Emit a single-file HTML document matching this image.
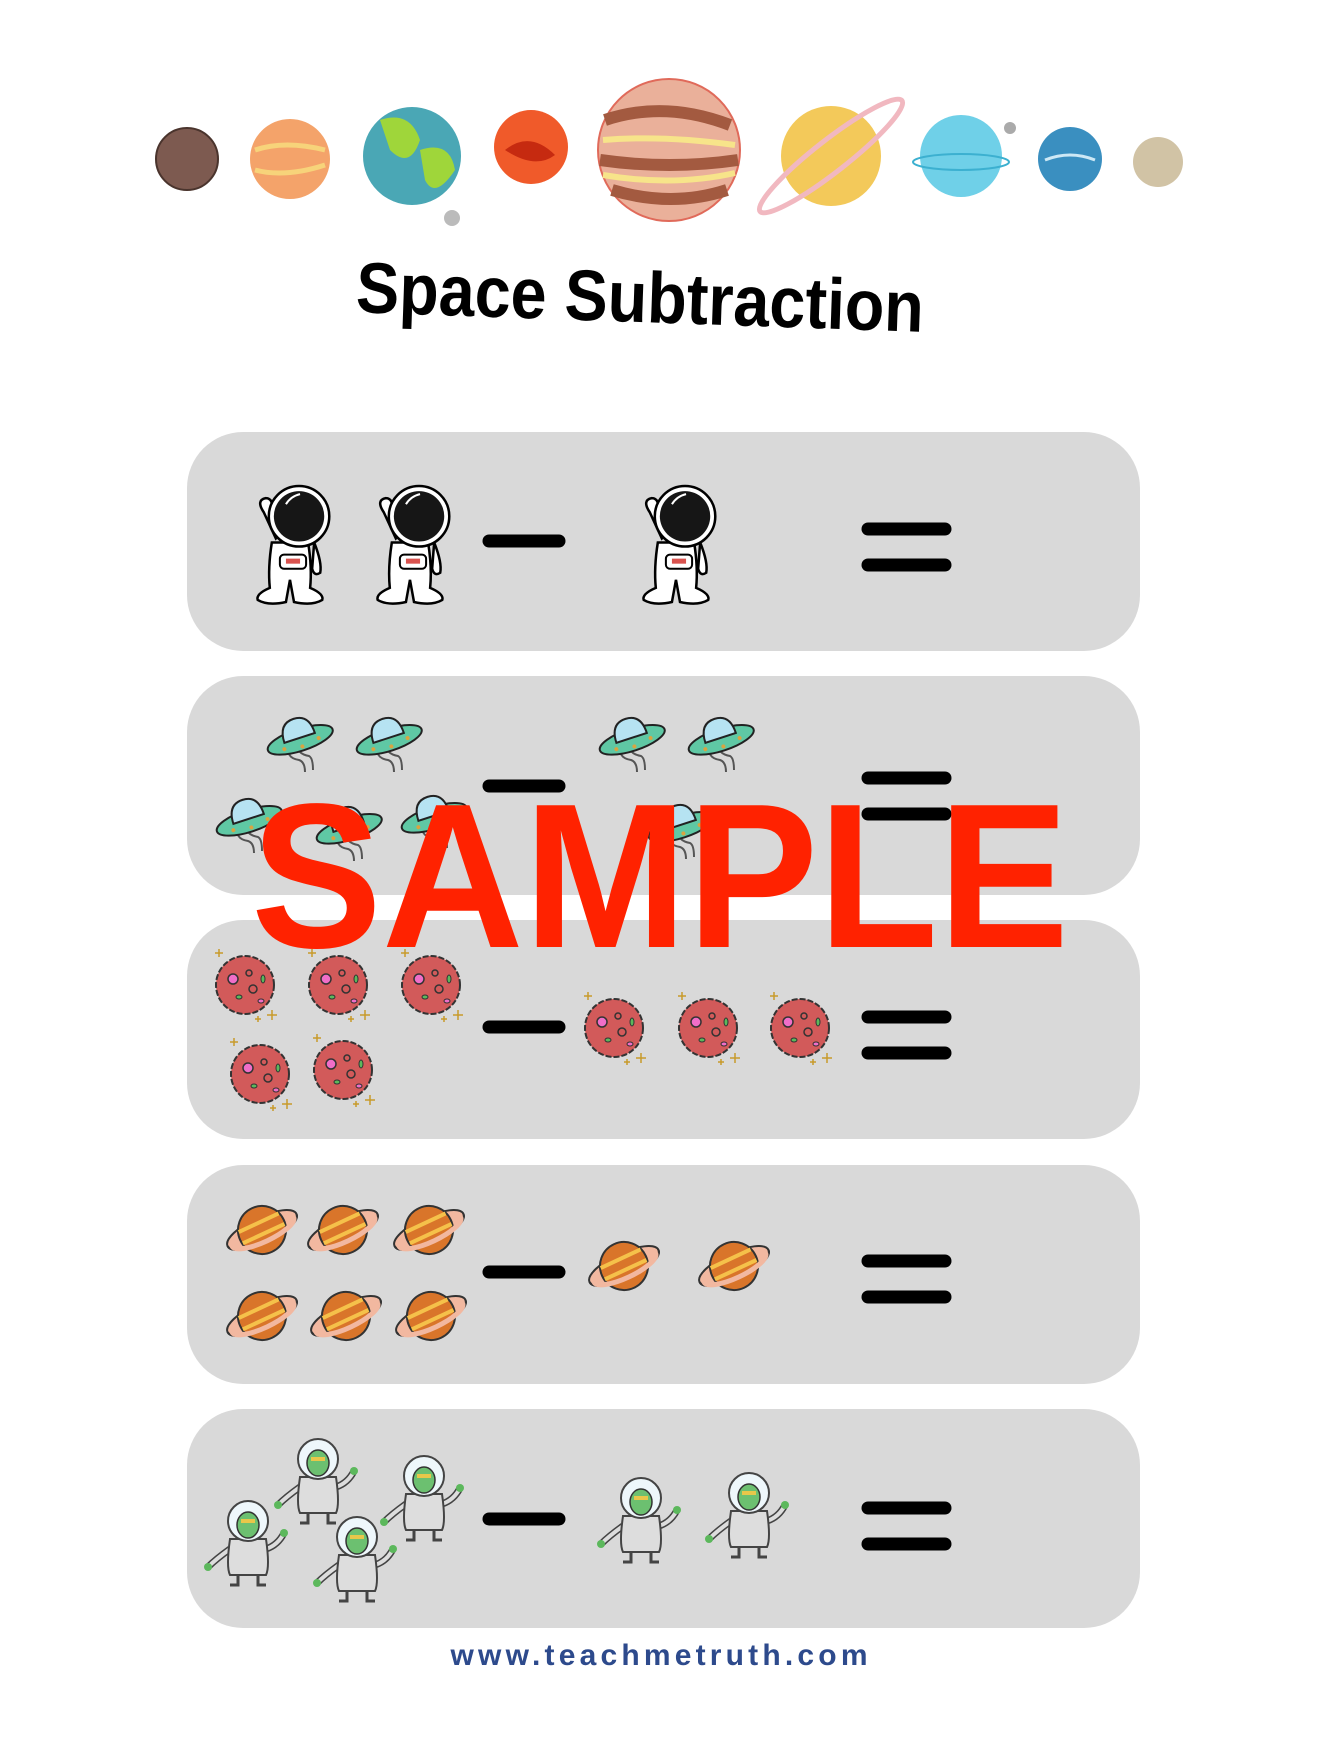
<!DOCTYPE html>
<html><head><meta charset="utf-8"><style>
html,body{margin:0;padding:0;background:#fff;}
body{width:1326px;height:1752px;position:relative;overflow:hidden;font-family:"Liberation Sans",sans-serif;}
.row{position:absolute;left:187px;width:953px;height:219px;background:#d9d9d9;border-radius:56px;}
.t{position:absolute;}
</style></head><body>
<div class="row" style="top:432px"></div>
<div class="row" style="top:676px"></div>
<div class="row" style="top:920px"></div>
<div class="row" style="top:1165px"></div>
<div class="row" style="top:1409px"></div>

<svg class="t" style="left:0;top:0" width="1326" height="1752" viewBox="0 0 1326 1752">
<defs>
<symbol id="astro" viewBox="-40 -62 80 124" overflow="visible">
 <path d="M-30 -30 q-8 -12 2 -14 q8 0 6 14 l10 20 l-6 6z" fill="#fff" stroke="#000" stroke-width="2.5"/>
 <path d="M-22 0 q-4 25 -2 45 q-14 6 -12 12 q10 6 28 2 l4 -22 l4 22 q18 4 28 -2 q2 -6 -12 -12 q2 -20 -2 -45z" fill="#fff" stroke="#000" stroke-width="2.5"/>
 <path d="M20 0 q8 20 6 30 q-6 4 -8 -4z" fill="#fff" stroke="#000" stroke-width="2.5"/>
 <rect x="-14" y="12" width="26" height="14" rx="4" fill="#fff" stroke="#000" stroke-width="2"/>
 <rect x="-8" y="16" width="14" height="5" fill="#d9534f"/>
 <circle cx="5" cy="-26" r="30" fill="#fff" stroke="#000" stroke-width="2.5"/>
 <circle cx="5" cy="-26" r="25" fill="#161616"/>
 <path d="M-8 -38 q5 -8 14 -10" stroke="#fff" stroke-width="2" fill="none"/>
</symbol>
<symbol id="ufo" viewBox="-40 -30 80 60" overflow="visible">
 <path d="M-10 8 q-4 14 10 16 q6 2 6 12 M-2 8 q0 10 12 12 q4 2 4 14" stroke="#555" stroke-width="2" fill="none"/>
 <g transform="rotate(-18)">
 <ellipse cx="0" cy="4" rx="34" ry="11" fill="#5fc8a4" stroke="#222" stroke-width="2"/>
 <path d="M-16 2 q0 -20 16 -20 q16 0 16 20z" fill="#b6e3f2" stroke="#222" stroke-width="2"/>
 <circle cx="-18" cy="8" r="2" fill="#d9a441"/><circle cx="0" cy="11" r="2" fill="#d9a441"/><circle cx="18" cy="8" r="2" fill="#d9a441"/>
 </g>
</symbol>
<symbol id="ast" viewBox="-40 -40 80 80" overflow="visible">
 <circle r="29" fill="#d25a5a" stroke="#333" stroke-width="2" stroke-dasharray="6 2"/>
 <circle cx="-12" cy="-6" r="5" fill="#f06ec8" stroke="#333" stroke-width="1.5"/>
 <circle cx="4" cy="-12" r="3" fill="none" stroke="#333" stroke-width="1.5"/>
 <circle cx="8" cy="4" r="4" fill="none" stroke="#333" stroke-width="1.5"/>
 <ellipse cx="-6" cy="12" rx="3" ry="2" fill="#5cb85c" stroke="#333"/>
 <ellipse cx="18" cy="-6" rx="2" ry="4" fill="#5cb85c" stroke="#333"/>
 <ellipse cx="16" cy="16" rx="3" ry="2" fill="#f06ec8" stroke="#333"/>
 <path d="M22 30 h10 M27 25 v10 M10 34 h6 M13 31 v6 M-30 -32 h8 M-26 -36 v8" stroke="#c89a2a" stroke-width="1.5"/>
</symbol>
<symbol id="sat" viewBox="-40 -35 80 70" overflow="visible">
 <g transform="rotate(-25)">
 <ellipse rx="38" ry="13" fill="#f2b8a0" stroke="#333" stroke-width="2"/>
 <circle r="24" fill="#d9752a" stroke="#333" stroke-width="2"/>
 <path d="M-22 -8 h44 M-23 4 h46" stroke="#f5c14a" stroke-width="4"/>
 <path d="M-38 0 a38 13 0 0 0 76 0" fill="none" stroke="#333" stroke-width="2"/>
 <path d="M-34 2 a34 10 0 0 0 68 0" fill="none" stroke="#f2b8a0" stroke-width="5"/>
 </g>
</symbol>
<symbol id="alien" viewBox="-40 -50 80 100" overflow="visible">
 <path d="M-18 10 q-14 10 -22 18 M18 10 q12 -4 18 -16" stroke="#444" stroke-width="7" fill="none"/>
 <path d="M-18 10 q-14 10 -22 18 M18 10 q12 -4 18 -16" stroke="#ddd" stroke-width="4" fill="none"/>
 <circle cx="-40" cy="28" r="4" fill="#5cb85c"/><circle cx="36" cy="-6" r="4" fill="#5cb85c"/>
 <path d="M-18 0 q-4 28 0 36 h36 q4 -8 0 -36z" fill="#ddd" stroke="#444" stroke-width="2"/>
 <path d="M-10 36 v10 h-8 M10 36 v10 h8" stroke="#444" stroke-width="3" fill="none"/>
 <circle cx="0" cy="-18" r="20" fill="#eef7fb" stroke="#444" stroke-width="2"/>
 <ellipse cx="0" cy="-14" rx="11" ry="13" fill="#6cc070" stroke="#333" stroke-width="1.5"/>
 <rect x="-7" y="-20" width="14" height="4" fill="#e8c74a"/>
</symbol>
</defs>

<!-- planets -->
<circle cx="187" cy="159" r="31" fill="#7d5a50" stroke="#4a342d" stroke-width="2"/>
<circle cx="290" cy="159" r="40" fill="#f4a36a"/><path d="M255 150 q30 -10 70 0 M255 170 q30 8 70 -5" stroke="#f7d37a" stroke-width="5" fill="none"/>
<circle cx="412" cy="156" r="49" fill="#4aa7b5"/><path d="M380 120 q30 -10 40 20 q-10 30 -30 10z M420 150 q30 -10 35 20 q-20 30 -30 10z" fill="#9fd63a"/>
<circle cx="452" cy="218" r="8" fill="#bbb"/>
<circle cx="531" cy="147" r="37" fill="#f05a2a"/><path d="M505 150 q25 -20 50 5 q-20 15 -50 -5z" fill="#c62a10"/>
<circle cx="669" cy="150" r="71" fill="#eab09a" stroke="#e06a5a" stroke-width="2"/>
<path d="M605 120 q60 -20 125 5 M600 160 q70 10 138 0 M612 190 q60 18 115 0" stroke="#a35a40" stroke-width="12" fill="none"/>
<path d="M603 140 q60 -5 132 5 M603 175 q70 12 132 -2" stroke="#f7e48a" stroke-width="6" fill="none"/>
<circle cx="831" cy="156" r="50" fill="#f3c95a"/>
<ellipse cx="831" cy="156" rx="90" ry="16" transform="rotate(-38 831 156)" fill="none" stroke="#f1b8c0" stroke-width="5"/>
<circle cx="961" cy="156" r="41" fill="#6fd0e8"/><ellipse cx="961" cy="162" rx="48" ry="8" fill="none" stroke="#3cb0d0" stroke-width="2"/>
<circle cx="1010" cy="128" r="6" fill="#aaa"/>
<circle cx="1070" cy="159" r="32" fill="#3a8fc0"/><path d="M1045 160 q25 -10 50 0" stroke="#cde8f5" stroke-width="3" fill="none"/>
<circle cx="1158" cy="162" r="25" fill="#d1c3a5"/>

<!-- row 1 -->
<use href="#astro" x="253" y="480" width="82" height="125"/>
<use href="#astro" x="373" y="480" width="82" height="125"/>
<use href="#astro" x="639" y="480" width="82" height="125"/>
<!-- row 2 -->
<use href="#ufo" x="259" y="706" width="80" height="60"/>
<use href="#ufo" x="348" y="706" width="80" height="60"/>
<use href="#ufo" x="591" y="706" width="80" height="60"/>
<use href="#ufo" x="680" y="706" width="80" height="60"/>
<use href="#ufo" x="208" y="787" width="80" height="60"/>
<use href="#ufo" x="308" y="795" width="80" height="60"/>
<use href="#ufo" x="393" y="784" width="80" height="60"/>
<use href="#ufo" x="640" y="793" width="80" height="60"/>
<!-- row 3 -->
<use href="#ast" x="205" y="945" width="80" height="80"/>
<use href="#ast" x="298" y="945" width="80" height="80"/>
<use href="#ast" x="391" y="945" width="80" height="80"/>
<use href="#ast" x="220" y="1034" width="80" height="80"/>
<use href="#ast" x="303" y="1030" width="80" height="80"/>
<use href="#ast" x="574" y="988" width="80" height="80"/>
<use href="#ast" x="668" y="988" width="80" height="80"/>
<use href="#ast" x="760" y="988" width="80" height="80"/>
<!-- row 4 -->
<use href="#sat" x="222" y="1195" width="80" height="70"/>
<use href="#sat" x="303" y="1195" width="80" height="70"/>
<use href="#sat" x="389" y="1195" width="80" height="70"/>
<use href="#sat" x="222" y="1281" width="80" height="70"/>
<use href="#sat" x="306" y="1281" width="80" height="70"/>
<use href="#sat" x="391" y="1281" width="80" height="70"/>
<use href="#sat" x="584" y="1231" width="80" height="70"/>
<use href="#sat" x="694" y="1231" width="80" height="70"/>
<!-- row 5 -->
<use href="#alien" x="278" y="1427" width="80" height="100"/>
<use href="#alien" x="208" y="1489" width="80" height="100"/>
<use href="#alien" x="384" y="1444" width="80" height="100"/>
<use href="#alien" x="317" y="1505" width="80" height="100"/>
<use href="#alien" x="601" y="1466" width="80" height="100"/>
<use href="#alien" x="709" y="1461" width="80" height="100"/>

<!-- operators -->
<g stroke="#000" stroke-width="13" stroke-linecap="round">
<line x1="489" y1="541" x2="559" y2="541"/>
<line x1="489" y1="786" x2="559" y2="786"/>
<line x1="489" y1="1027" x2="559" y2="1027"/>
<line x1="489" y1="1272" x2="559" y2="1272"/>
<line x1="489" y1="1519" x2="559" y2="1519"/>
<g transform="translate(0,6)">
<line x1="868" y1="523" x2="945" y2="523"/><line x1="868" y1="559" x2="945" y2="559"/>
<line x1="868" y1="772" x2="945" y2="772"/><line x1="868" y1="808" x2="945" y2="808"/>
<line x1="868" y1="1011" x2="945" y2="1011"/><line x1="868" y1="1047" x2="945" y2="1047"/>
<line x1="868" y1="1255" x2="945" y2="1255"/><line x1="868" y1="1291" x2="945" y2="1291"/>
<line x1="868" y1="1502" x2="945" y2="1502"/><line x1="868" y1="1538" x2="945" y2="1538"/>
</g>
</g>

<text x="640" y="322" text-anchor="middle" transform="rotate(2 640 300)" font-family="Liberation Sans, sans-serif" font-weight="bold" font-size="72" fill="#000" textLength="568" lengthAdjust="spacingAndGlyphs">Space Subtraction</text>
<text x="660" y="947" text-anchor="middle" font-family="Liberation Sans, sans-serif" font-weight="bold" font-size="206" fill="#ff2200" textLength="818" lengthAdjust="spacingAndGlyphs">SAMPLE</text>
<text x="659" y="1665" text-anchor="middle" font-family="Liberation Sans, sans-serif" font-weight="bold" font-size="30" fill="#2d4a8c" textLength="417">www.teachmetruth.com</text>
</svg>
</body></html>
